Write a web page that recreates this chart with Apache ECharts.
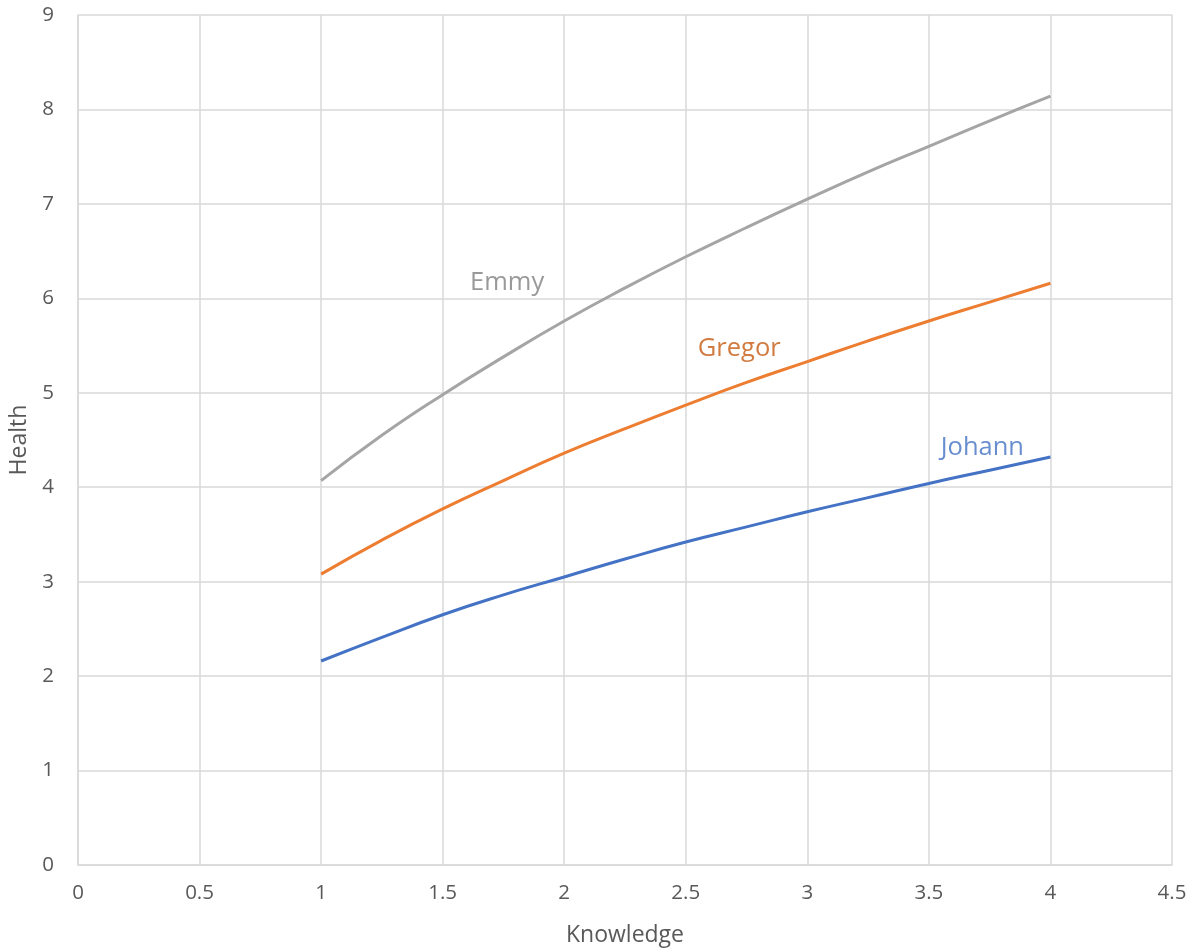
<!DOCTYPE html>
<html><head><meta charset="utf-8">
<script src="https://cdn.jsdelivr.net/npm/echarts@6/dist/echarts.min.js"></script>
<style>html,body{margin:0;padding:0;background:#fff}#c{width:1195px;height:949px}</style>
</head><body><div id="c"></div>
<script>
const knowledge = [1, 1.25, 1.5, 1.75, 2, 2.25, 2.5, 2.75, 3, 3.25, 3.5, 3.75, 4];
const emmy   = [4.07, 4.55, 4.98, 5.38, 5.76, 6.11, 6.44, 6.75, 7.05, 7.34, 7.61, 7.88, 8.14];
const gregor = [3.08, 3.44, 3.77, 4.07, 4.36, 4.62, 4.87, 5.11, 5.33, 5.55, 5.76, 5.96, 6.16];
const johann = [2.16, 2.41, 2.65, 2.86, 3.05, 3.24, 3.42, 3.58, 3.74, 3.89, 4.04, 4.18, 4.32];
const seriesNames = ['Emmy', 'Gregor', 'Johann'];
const labelPos = [[1.765, 6.16], [2.72, 5.47], [3.72, 4.42]];

const lineColors = ['#A5A5A5', '#ED7D31', '#4472C4'];
const labelColors = ['#7F7F7F', '#C55A11', '#4472C4'];
const font = '"Open Sans", "Noto Sans", sans-serif';
const values = [emmy, gregor, johann];

const chart = echarts.init(document.getElementById('c'));
const series = [];
values.forEach((v, i) => {
  series.push({
    name: seriesNames[i], type: 'line', smooth: true, showSymbol: false,
    data: knowledge.map((x, j) => [x, v[j]]),
    lineStyle: {color: lineColors[i], width: 3},
    itemStyle: {color: lineColors[i]},
    z: 3 - i
  });
  series.push({
    type: 'scatter', symbolSize: 0, silent: true,
    data: [labelPos[i]],
    label: {show: true, position: 'inside', formatter: seriesNames[i],
      color: labelColors[i], fontSize: 25.5, fontFamily: font}
  });
});
chart.setOption({
  animation: false,
  grid: {left: 78, right: 23, top: 15, bottom: 84, containLabel: false, outerBoundsMode: 'none'},
  xAxis: {
    type: 'value', min: 0, max: 4.5, interval: 0.5,
    name: 'Knowledge', nameLocation: 'middle', nameGap: 59,
    nameTextStyle: {color: '#595959', fontSize: 23, fontFamily: font},
    axisLine: {show: true, lineStyle: {color: '#D9D9D9', width: 1.5}},
    axisTick: {show: false},
    axisLabel: {color: '#595959', fontSize: 20.5, fontFamily: font, margin: 18},
    splitLine: {show: true, lineStyle: {color: '#D9D9D9', width: 1.5}}
  },
  yAxis: {
    type: 'value', min: 0, max: 9, interval: 1,
    name: 'Health', nameLocation: 'middle', nameGap: 46,
    nameTextStyle: {color: '#595959', fontSize: 23, fontFamily: font},
    axisLine: {show: true, lineStyle: {color: '#D9D9D9', width: 1.5}},
    axisTick: {show: false},
    axisLabel: {color: '#595959', fontSize: 20.5, fontFamily: font, margin: 24},
    splitLine: {show: true, lineStyle: {color: '#D9D9D9', width: 1.5}}
  },
  series: series
});
</script></body></html>
